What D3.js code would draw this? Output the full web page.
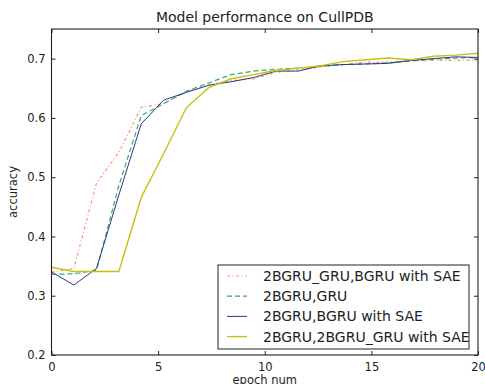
<!DOCTYPE html>
<html>
<head>
<meta charset="utf-8">
<script src="https://cdn.jsdelivr.net/npm/d3@7"></script>
<style>
  body { margin: 0; background: #fff; }
  svg { font-family: "DejaVu Sans", sans-serif; }
</style>
</head>
<body>
<div id="chart"></div>
<script>
// 20 evaluation points spread over epochs 0..20
const epochs = [0, 1.05, 2.11, 3.16, 4.21, 5.26, 6.32, 7.37, 8.42, 9.47,
  10.53, 11.58, 12.63, 13.68, 14.74, 15.79, 16.84, 17.89, 18.95, 20];

const gruBgruSae = [0.340, 0.346, 0.490, 0.542, 0.618, 0.624, 0.644, 0.656, 0.663, 0.666,
  0.677, 0.681, 0.686, 0.690, 0.694, 0.694, 0.697, 0.697, 0.697, 0.698];
const bgruGru = [0.336, 0.337, 0.343, 0.486, 0.604, 0.624, 0.645, 0.659, 0.673, 0.679,
  0.682, 0.684, 0.687, 0.690, 0.691, 0.693, 0.696, 0.699, 0.701, 0.702];
const bgruSae = [0.340, 0.318, 0.346, 0.470, 0.590, 0.630, 0.643, 0.655, 0.661, 0.668,
  0.679, 0.679, 0.688, 0.690, 0.691, 0.692, 0.697, 0.700, 0.703, 0.702];
const bgru2Sae = [0.348, 0.341, 0.341, 0.341, 0.466, 0.540, 0.617, 0.651, 0.666, 0.673,
  0.680, 0.684, 0.688, 0.695, 0.698, 0.701, 0.698, 0.704, 0.706, 0.709];

const seriesNames = ['2BGRU_GRU,BGRU with SAE', '2BGRU,GRU', '2BGRU,BGRU with SAE', '2BGRU,2BGRU_GRU with SAE'];
const xTicks = [0, 5, 10, 15, 20];
const yTicks = [0.2, 0.3, 0.4, 0.5, 0.6, 0.7];

const series = [
  { name: seriesNames[0], values: gruBgruSae, color: '#ff6a45', dash: '3,2.5,1,2.5', width: 1.2, opacity: 0.75 },
  { name: seriesNames[1], values: bgruGru, color: '#2fae6a', dash: '5,3', width: 1.2, opacity: 1 },
  { name: seriesNames[2], values: bgruSae, color: '#2e3592', dash: null, width: 1, opacity: 1 },
  { name: seriesNames[3], values: bgru2Sae, color: '#c4c410', dash: null, width: 1.4, opacity: 1 }
];

const width = 485, height = 384;
const margin = { top: 29, right: 7, bottom: 29, left: 51.5 };

const svg = d3.select('#chart').append('svg')
  .attr('width', width)
  .attr('height', height);

const x = d3.scaleLinear().domain([0, 20]).range([margin.left, width - margin.right]);
const y = d3.scaleLinear().domain([0.2, 0.75]).range([height - margin.bottom, margin.top]);

// Lines
const line = d3.line()
  .x((d, i) => x(epochs[i]))
  .y(d => y(d));

const plot = svg.append('g');
series.forEach(s => {
  plot.append('path')
    .datum(s.values)
    .attr('d', line)
    .attr('fill', 'none')
    .attr('stroke', s.color)
    .attr('stroke-width', s.width)
    .attr('stroke-opacity', s.opacity)
    .attr('stroke-dasharray', s.dash);
});

// Axes, ticks pointing inward (classic matplotlib)
const axisColor = '#222';
svg.append('g')
  .attr('transform', `translate(0,${y(0.2)})`)
  .call(d3.axisBottom(x).tickValues(xTicks).tickFormat(d3.format('d')).tickSizeInner(-4).tickSizeOuter(0).tickPadding(8))
  .call(g => g.select('.domain').remove());
svg.append('g')
  .attr('transform', `translate(0,${y(0.75)})`)
  .call(d3.axisTop(x).tickValues(xTicks).tickFormat('').tickSizeInner(-4).tickSizeOuter(0))
  .call(g => g.select('.domain').remove());
svg.append('g')
  .attr('transform', `translate(${x(0)},0)`)
  .call(d3.axisLeft(y).tickValues(yTicks).tickFormat(d3.format('.1f')).tickSizeInner(-4).tickSizeOuter(0).tickPadding(6))
  .call(g => g.select('.domain').remove());
svg.append('g')
  .attr('transform', `translate(${x(20)},0)`)
  .call(d3.axisRight(y).tickValues(yTicks).tickFormat('').tickSizeInner(-4).tickSizeOuter(0))
  .call(g => g.select('.domain').remove());

svg.selectAll('.tick line').attr('stroke', axisColor);
svg.selectAll('.tick text').attr('fill', axisColor).attr('font-size', 11.5).attr('font-family', '"DejaVu Sans", sans-serif');

svg.append('rect')
  .attr('x', x(0)).attr('y', y(0.75))
  .attr('width', x(20) - x(0)).attr('height', y(0.2) - y(0.75))
  .attr('fill', 'none').attr('stroke', axisColor).attr('stroke-width', 1.1);

// Title and labels
svg.append('text')
  .attr('x', (x(0) + x(20)) / 2).attr('y', 22)
  .attr('text-anchor', 'middle').attr('font-size', 14).attr('fill', '#222')
  .text('Model performance on CullPDB');
svg.append('text')
  .attr('x', (x(0) + x(20)) / 2).attr('y', 384)
  .attr('text-anchor', 'middle').attr('font-size', 11.5).attr('fill', '#222')
  .text('epoch num');
svg.append('text')
  .attr('transform', `translate(17,${(y(0.2) + y(0.75)) / 2}) rotate(-90)`)
  .attr('text-anchor', 'middle').attr('font-size', 11.5).attr('fill', '#222')
  .text('accuracy');

// Legend
const legend = svg.append('g').attr('transform', 'translate(218,265)');
legend.append('rect')
  .attr('width', 251).attr('height', 84)
  .attr('fill', '#fff').attr('stroke', axisColor).attr('stroke-width', 1);
series.forEach((s, i) => {
  const ly = 11 + i * 20.2;
  legend.append('line')
    .attr('x1', 9).attr('x2', 29).attr('y1', ly).attr('y2', ly)
    .attr('stroke', s.color).attr('stroke-width', s.width)
    .attr('stroke-opacity', s.opacity)
    .attr('stroke-dasharray', s.dash);
  legend.append('text')
    .attr('x', 45).attr('y', ly).attr('dy', '0.35em')
    .attr('font-size', 14).attr('fill', '#222')
    .text(s.name);
});
</script>
</body>
</html>
